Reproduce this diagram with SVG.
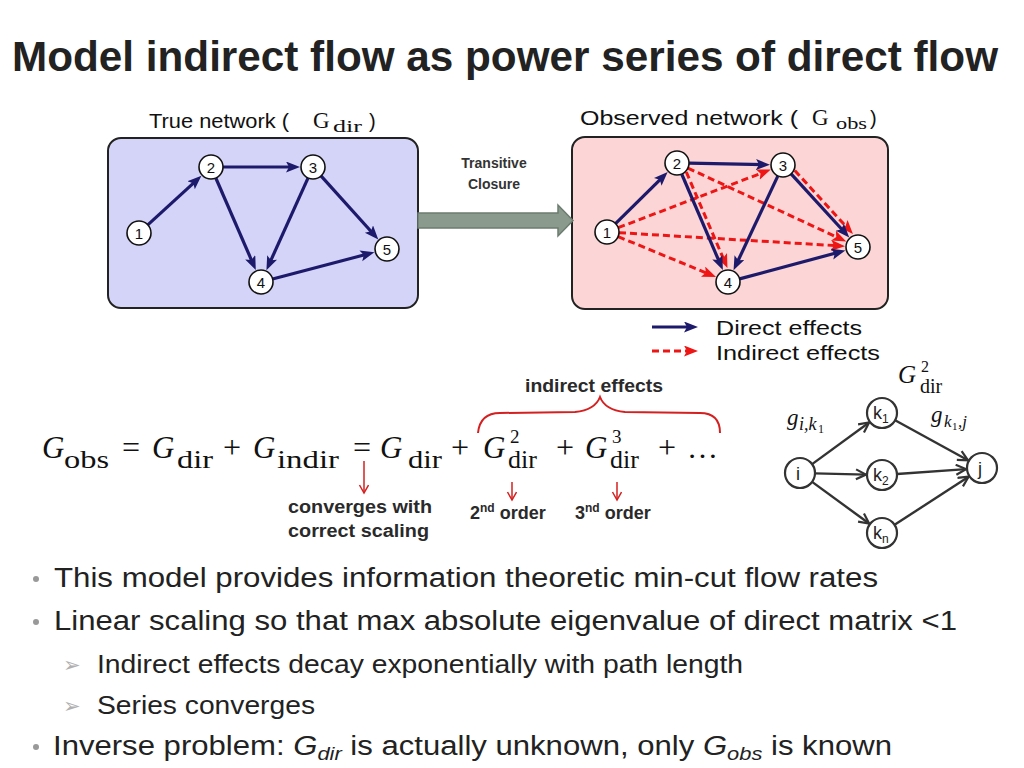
<svg xmlns="http://www.w3.org/2000/svg" width="1024" height="768" viewBox="0 0 1024 768">
<style>
.sans{font-family:"Liberation Sans",Arial,sans-serif}
.serif{font-family:"Liberation Serif","Times New Roman",serif}
.title{font-family:"Liberation Sans",Arial,sans-serif;font-weight:bold;font-size:43px;fill:#222}
.hdr{font-family:"Liberation Sans",Arial,sans-serif;font-size:20px;fill:#111}
.node circle{fill:#fff;stroke:#111;stroke-width:1.6}
.node text{font-family:"Liberation Sans",Arial,sans-serif;font-size:15px;fill:#111;text-anchor:middle}
.dir{stroke:#1e1a6b;stroke-width:3.2;fill:none;marker-end:url(#ab)}
.ind{stroke:#ee1515;stroke-width:3;fill:none;stroke-dasharray:7 4;marker-end:url(#ar)}
.g2{stroke:#333;stroke-width:2.4;fill:none;marker-end:url(#ao)}
.snode circle{fill:#fff;stroke:#333;stroke-width:2.2}
.snode text{font-family:"Liberation Sans",Arial,sans-serif;font-size:18px;fill:#222}
.eq{font-family:"Liberation Serif","Times New Roman",serif;fill:#111}
.lbl{font-family:"Liberation Sans",Arial,sans-serif;font-weight:bold;font-size:18px;fill:#2a2a2a}
.red{stroke:#d42020;stroke-width:1.5;fill:none}
.bul{font-family:"Liberation Sans",Arial,sans-serif;font-size:27px;fill:#222}
.sub{font-family:"Liberation Sans",Arial,sans-serif;font-size:25.5px;fill:#222}
.dot{fill:#999}
.arrb{font-family:"DejaVu Sans",sans-serif;font-size:21px;fill:#b0b0b0}
</style>
<defs>
<marker id="ab" markerUnits="userSpaceOnUse" markerWidth="16" markerHeight="12" refX="8" refY="5.5" orient="auto"><path d="M0,0 L14,5.5 L0,11 L3,5.5 z" fill="#1e1a6b"/></marker>
<marker id="ar" markerUnits="userSpaceOnUse" markerWidth="16" markerHeight="12" refX="8" refY="5.5" orient="auto"><path d="M0,0 L14,5.5 L0,11 L3,5.5 z" fill="#ee1515"/></marker>
<marker id="ao" markerUnits="userSpaceOnUse" markerWidth="14" markerHeight="14" refX="11" refY="6" orient="auto"><path d="M1,1 L11,6 L1,11" fill="none" stroke="#333" stroke-width="2.2" stroke-linejoin="miter"/></marker>
<marker id="arrsmall" markerUnits="userSpaceOnUse" markerWidth="12" markerHeight="12" refX="9" refY="5" orient="auto"><path d="M1,0.5 L9,5 L1,9.5" fill="none" stroke="#d42020" stroke-width="1.5"/></marker>
</defs>
<rect width="1024" height="768" fill="#fff"/>

<text class="title" x="12" y="71" textLength="986" lengthAdjust="spacingAndGlyphs">Model indirect flow as power series of direct flow</text>

<!-- panel headers -->
<text class="hdr" x="149" y="128" textLength="140" lengthAdjust="spacingAndGlyphs">True network (</text>
<text class="serif" x="313" y="128" font-size="23" fill="#111">G</text>
<text class="serif" x="333" y="132" font-size="17" fill="#111" textLength="29" lengthAdjust="spacingAndGlyphs">dir</text>
<text class="hdr" x="369" y="128">)</text>
<text class="hdr" x="580" y="125" textLength="218" lengthAdjust="spacingAndGlyphs">Observed network (</text>
<text class="serif" x="812" y="125" font-size="23" fill="#111">G</text>
<text class="serif" x="836" y="129" font-size="17" fill="#111" textLength="31" lengthAdjust="spacingAndGlyphs">obs</text>
<text class="hdr" x="870" y="125">)</text>

<!-- panels -->
<rect x="108" y="138" width="310" height="170" rx="13" fill="#d4d4f8" stroke="#222" stroke-width="2"/>
<rect x="572" y="137" width="316" height="172" rx="13" fill="#fcd6d6" stroke="#222" stroke-width="2"/>

<!-- transitive closure arrow -->
<text class="sans" x="494" y="168" font-size="14" font-weight="bold" fill="#333" text-anchor="middle">Transitive</text>
<text class="sans" x="494" y="189" font-size="14" font-weight="bold" fill="#333" text-anchor="middle">Closure</text>
<path d="M418,213 L558,213 L558,205 L573,220.5 L558,236 L558,228 L418,228 z" fill="#8a9a8c" stroke="#6c7c6e" stroke-width="1.5"/>

<g id="connectors">
<!-- left network -->
<line class="dir" x1="147.8" y1="224.9" x2="197.0" y2="179.9"/>
<line class="dir" x1="223" y1="167" x2="294" y2="167"/>
<line class="dir" x1="215.8" y1="178.0" x2="253.4" y2="264.6"/>
<line class="dir" x1="308.1" y1="177.9" x2="268.9" y2="264.7"/>
<line class="dir" x1="321.0" y1="175.9" x2="374.3" y2="235.0"/>
<line class="dir" x1="272.6" y1="279.0" x2="368.6" y2="253.8"/>
<!-- right network indirect -->
<line class="ind" x1="618.2" y1="227.7" x2="765.2" y2="171.7"/>
<line class="ind" x1="618.1" y1="236.6" x2="710.5" y2="274.7"/>
<line class="ind" x1="619" y1="232.7" x2="839" y2="245.8"/>
<line class="ind" x1="686.3" y1="172" x2="725.1" y2="262.6"/>
<line class="ind" x1="794.8" y1="170.5" x2="848.9" y2="229.6"/>
<line class="ind" x1="687.9" y1="168.1" x2="840.8" y2="239.0"/>
<!-- right network direct -->
<line class="dir" x1="615.5" y1="223.6" x2="663.4" y2="176.3"/>
<line class="dir" x1="689" y1="163.2" x2="764" y2="164.7"/>
<line class="dir" x1="681.7" y1="174.0" x2="720.5" y2="264.6"/>
<line class="dir" x1="777.9" y1="175.9" x2="736.1" y2="264.8"/>
<line class="dir" x1="791.1" y1="173.9" x2="845.2" y2="233.0"/>
<line class="dir" x1="739.6" y1="278.9" x2="839.6" y2="252.0"/>
<!-- legend -->
<line class="dir" x1="652" y1="327" x2="692" y2="327"/>
<line class="ind" x1="652" y1="351" x2="692" y2="351"/>
<!-- G2 diagram -->
<line class="g2" x1="812.1" y1="464.1" x2="869.1" y2="422.5"/>
<line class="g2" x1="815" y1="473.4" x2="866" y2="474.6"/>
<line class="g2" x1="812.1" y1="481.9" x2="869.1" y2="523.5"/>
<line class="g2" x1="895.1" y1="420.2" x2="968" y2="460.3"/>
<line class="g2" x1="897" y1="474" x2="966" y2="469.1"/>
<line class="g2" x1="894.6" y1="524.8" x2="968.6" y2="476.7"/>
<!-- red annotation arrows -->
<line class="red" x1="364" y1="461" x2="364" y2="493" marker-end="url(#arrsmall)"/>
<line class="red" x1="512" y1="482" x2="512" y2="500" marker-end="url(#arrsmall)"/>
<line class="red" x1="617" y1="482" x2="617" y2="500" marker-end="url(#arrsmall)"/>
<path d="M478,433 Q480,413 500,413 L575,412 Q595,410 600,397 Q605,410 625,412 L700,413 Q720,413 720,433" fill="none" stroke="#d42020" stroke-width="2"/>
</g>

<!-- left nodes -->
<g id="L1" class="node"><circle cx="139" cy="233" r="12"/><text x="139" y="238.5">1</text></g>
<g id="L2" class="node"><circle cx="211" cy="167" r="12"/><text x="211" y="172.5">2</text></g>
<g id="L3" class="node"><circle cx="313" cy="167" r="12"/><text x="313" y="172.5">3</text></g>
<g id="L4" class="node"><circle cx="261" cy="282" r="12"/><text x="261" y="287.5">4</text></g>
<g id="L5" class="node"><circle cx="387" cy="249" r="12"/><text x="387" y="254.5">5</text></g>
<!-- right nodes -->
<g id="R1" class="node"><circle cx="607" cy="232" r="12"/><text x="607" y="237.5">1</text></g>
<g id="R2" class="node"><circle cx="677" cy="163" r="12"/><text x="677" y="168.5">2</text></g>
<g id="R3" class="node"><circle cx="783" cy="165" r="12"/><text x="783" y="170.5">3</text></g>
<g id="R4" class="node"><circle cx="728" cy="282" r="12"/><text x="728" y="287.5">4</text></g>
<g id="R5" class="node"><circle cx="858" cy="247" r="12"/><text x="858" y="252.5">5</text></g>

<!-- legend text -->
<g id="legend">
<text class="sans" x="716" y="335" font-size="21" fill="#111" textLength="146" lengthAdjust="spacingAndGlyphs">Direct effects</text>
<text class="sans" x="716" y="360" font-size="21" fill="#111" textLength="164" lengthAdjust="spacingAndGlyphs">Indirect effects</text>
</g>

<!-- equation -->
<g id="equation" class="eq">
<text x="42" y="458" font-size="31" font-style="italic">G</text>
<text x="64" y="468" font-size="26" textLength="45" lengthAdjust="spacingAndGlyphs">obs</text>
<text x="131" y="458" font-size="32" text-anchor="middle">=</text>
<text x="152" y="458" font-size="31" font-style="italic">G</text>
<text x="177" y="468" font-size="26" textLength="36" lengthAdjust="spacingAndGlyphs">dir</text>
<text x="232" y="458" font-size="32" text-anchor="middle">+</text>
<text x="253" y="458" font-size="31" font-style="italic">G</text>
<text x="277" y="468" font-size="26" textLength="62" lengthAdjust="spacingAndGlyphs">indir</text>
<text x="362" y="458" font-size="32" text-anchor="middle">=</text>
<text x="380" y="458" font-size="31" font-style="italic">G</text>
<text x="408" y="468" font-size="26" textLength="34" lengthAdjust="spacingAndGlyphs">dir</text>
<text x="460" y="458" font-size="32" text-anchor="middle">+</text>
<text x="483" y="458" font-size="31"><tspan font-style="italic">G</tspan><tspan x="510" y="443" font-size="19">2</tspan><tspan x="508" y="468" font-size="26">dir</tspan></text>
<text x="565" y="458" font-size="32" text-anchor="middle">+</text>
<text x="585" y="458" font-size="31"><tspan font-style="italic">G</tspan><tspan x="612" y="443" font-size="19">3</tspan><tspan x="610" y="468" font-size="26">dir</tspan></text>
<text x="667" y="458" font-size="32" text-anchor="middle">+</text>
<text x="687" y="458" font-size="30" textLength="31" lengthAdjust="spacingAndGlyphs">…</text>
</g>

<text class="lbl" x="525" y="392" textLength="138" lengthAdjust="spacingAndGlyphs">indirect effects</text>
<text class="lbl" x="288" y="513" textLength="144" lengthAdjust="spacingAndGlyphs">converges with</text>
<text class="lbl" x="288" y="537" textLength="141" lengthAdjust="spacingAndGlyphs">correct scaling</text>
<text class="lbl" x="470" y="519">2<tspan font-size="12" dy="-7">nd</tspan><tspan dy="7"> order</tspan></text>
<text class="lbl" x="575" y="519">3<tspan font-size="12" dy="-7">nd</tspan><tspan dy="7"> order</tspan></text>

<!-- G2 diagram -->
<text class="eq" x="898" y="383" font-size="25"><tspan font-style="italic">G</tspan><tspan x="921" y="372" font-size="16">2</tspan><tspan x="920" y="393" font-size="20">dir</tspan></text>
<text class="eq" x="787" y="425" font-size="23"><tspan font-style="italic">g</tspan><tspan x="799" y="430" font-size="18" font-style="italic">i,k</tspan><tspan x="818" y="433" font-size="12">1</tspan></text>
<text class="eq" x="931" y="422" font-size="23"><tspan font-style="italic">g</tspan><tspan x="944" y="427" font-size="17" font-style="italic">k</tspan><tspan x="952" y="430" font-size="11">1</tspan><tspan x="958" y="427" font-size="17" font-style="italic">,j</tspan></text>
<g id="Ni" class="snode"><circle cx="800" cy="473" r="15"/><text x="796" y="479.5">i</text></g>
<g id="Nk1" class="snode"><circle cx="882" cy="413" r="15"/><text x="873" y="419">k<tspan font-size="12" dy="4">1</tspan></text></g>
<g id="Nk2" class="snode"><circle cx="882" cy="475" r="15"/><text x="873" y="481">k<tspan font-size="12" dy="4">2</tspan></text></g>
<g id="Nkn" class="snode"><circle cx="882" cy="533" r="15"/><text x="873" y="539">k<tspan font-size="12" dy="4">n</tspan></text></g>
<g id="Nj" class="snode"><circle cx="982" cy="468" r="15"/><text x="978" y="474.5">j</text></g>

<!-- bullets -->
<g id="bullets">
<circle class="dot" cx="36" cy="579" r="3"/>
<text class="bul" x="54" y="587" textLength="824" lengthAdjust="spacingAndGlyphs">This model provides information theoretic min-cut flow rates</text>
<circle class="dot" cx="36" cy="622" r="3"/>
<text class="bul" x="54" y="630" textLength="903" lengthAdjust="spacingAndGlyphs">Linear scaling so that max absolute eigenvalue of direct matrix &lt;1</text>
<text class="arrb" x="63" y="672">➢</text>
<text class="sub" x="97" y="673" textLength="646" lengthAdjust="spacingAndGlyphs">Indirect effects decay exponentially with path length</text>
<text class="arrb" x="63" y="713">➢</text>
<text class="sub" x="97" y="714" textLength="218" lengthAdjust="spacingAndGlyphs">Series converges</text>
<circle class="dot" cx="36" cy="747" r="3"/>
<text class="bul" x="53" y="755" textLength="839" lengthAdjust="spacingAndGlyphs">Inverse problem: <tspan font-style="italic">G</tspan><tspan font-style="italic" font-size="19" dy="5">dir</tspan><tspan dy="-5"> is actually unknown, only </tspan><tspan font-style="italic">G</tspan><tspan font-style="italic" font-size="19" dy="5">obs</tspan><tspan dy="-5"> is known</tspan></text>
</g>
</svg>
